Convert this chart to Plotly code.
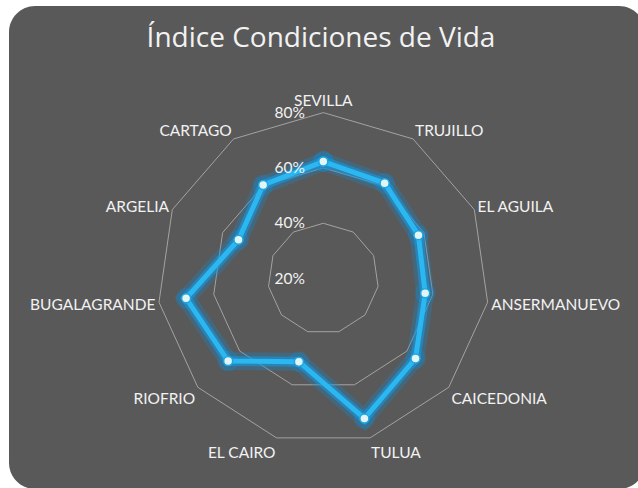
import plotly.graph_objects as go

# data
titulo = "Índice Condiciones de Vida"
municipios = ["SEVILLA", "TRUJILLO", "EL AGUILA", "ANSERMANUEVO", "CAICEDONIA", "TULUA",
              "EL CAIRO", "RIOFRIO", "BUGALAGRANDE", "ARGELIA", "CARTAGO"]
indice = [62.3, 61.0, 57.8, 57.2, 64.1, 72.7, 51.3, 65.5, 70.1, 53.7, 60.2]
radial_ticks = [20, 40, 60, 80]
radial_labels = ["20%", "40%", "60%", "80%"]

W, H = 638, 488
BG = "#595959"
FONT = "Lato, 'Open Sans', sans-serif"

# close the polygon
theta = municipios + municipios[:1]
r = indice + indice[:1]


def px_x(x):
    return x / W


def px_y(y):
    return 1 - y / H


def rounded_rect(x0, y0, x1, y1, rad):
    # path in paper coords built from pixel corners
    k = 0.45
    pts = [
        f"M {px_x(x0 + rad)},{px_y(y0)}",
        f"L {px_x(x1 - rad)},{px_y(y0)}",
        f"C {px_x(x1 - rad * k)},{px_y(y0)} {px_x(x1)},{px_y(y0 + rad * k)} {px_x(x1)},{px_y(y0 + rad)}",
        f"L {px_x(x1)},{px_y(y1 - rad)}",
        f"C {px_x(x1)},{px_y(y1 - rad * k)} {px_x(x1 - rad * k)},{px_y(y1)} {px_x(x1 - rad)},{px_y(y1)}",
        f"L {px_x(x0 + rad)},{px_y(y1)}",
        f"C {px_x(x0 + rad * k)},{px_y(y1)} {px_x(x0)},{px_y(y1 - rad * k)} {px_x(x0)},{px_y(y1 - rad)}",
        f"L {px_x(x0)},{px_y(y0 + rad)}",
        f"C {px_x(x0)},{px_y(y0 + rad * k)} {px_x(x0 + rad * k)},{px_y(y0)} {px_x(x0 + rad)},{px_y(y0)} Z",
    ]
    return " ".join(pts)


fig = go.Figure()

# soft glow under the line
fig.add_trace(go.Scatterpolar(r=r, theta=theta, mode="lines+markers",
                              line=dict(color="rgba(15,140,215,0.28)", width=18),
                              marker=dict(size=21, color="rgba(15,140,215,0.28)"),
                              hoverinfo="skip", showlegend=False))
fig.add_trace(go.Scatterpolar(r=r, theta=theta, mode="lines",
                              line=dict(color="rgba(20,155,230,0.55)", width=10),
                              hoverinfo="skip", showlegend=False))
# main series
fig.add_trace(go.Scatterpolar(r=r, theta=theta, mode="lines+markers",
                              line=dict(color="#2bb7ef", width=5),
                              marker=dict(size=9, color="#e2f4f4", line=dict(color="#1ea6e0", width=1.5)),
                              name="Índice", showlegend=False))

# polar placed so that centre ~ (323, 279) and radius ~ 166 px
cx, cy, R = 323.3, 278.6, 166
fig.update_layout(
    width=W, height=H,
    margin=dict(l=0, r=0, t=0, b=0),
    paper_bgcolor="white",
    showlegend=False,
    title=dict(text=titulo, x=321 / W, xanchor="center", y=1 - 37 / H, yanchor="middle",
               font=dict(family="'Open Sans', sans-serif", size=28, color="#f2f2f2")),
    polar=dict(
        domain=dict(x=[(cx - R) / W, (cx + R) / W], y=[(H - cy - R) / H, (H - cy + R) / H]),
        bgcolor="rgba(0,0,0,0)",
        gridshape="linear",
        angularaxis=dict(direction="clockwise", rotation=90, showgrid=False,
                         showline=True, linecolor="#a3a3a3", linewidth=1, ticks="",
                         tickfont=dict(family=FONT, size=15.5, color="#f2f2f2")),
        radialaxis=dict(range=[20, 80], tickvals=radial_ticks,
                        ticktext=[t + "\u2002\u2002" for t in radial_labels],
                        angle=90, tickangle=90, side="counterclockwise", showline=False, ticks="",
                        gridcolor="#a3a3a3", gridwidth=1,
                        tickfont=dict(family=FONT, size=15.5, color="#f2f2f2")),
    ),
    shapes=[dict(type="path", xref="paper", yref="paper", layer="below",
                 path=rounded_rect(9, 6, 645, 489, 26), fillcolor=BG, line=dict(width=0))],
)

# the page body has a default 8px margin; drop it so the figure fills the window
fig.write_html("out.html", config={"displayModeBar": False},
               post_script="document.body.style.margin='0';document.body.style.overflow='hidden';")
